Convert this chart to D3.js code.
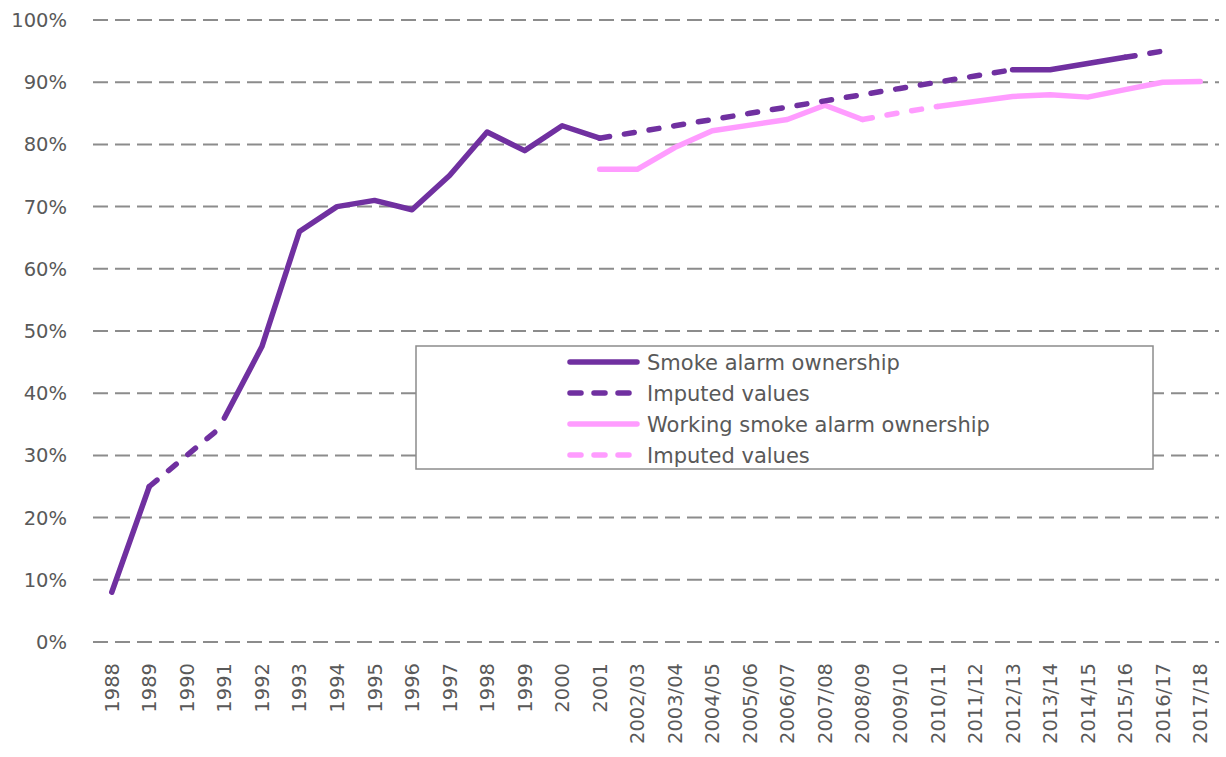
<!DOCTYPE html>
<meta charset="utf-8">
<script src="https://d3js.org/d3.v7.min.js"></script>
<style>
  body { margin: 0; background: #fff; }
  text { font-family: "DejaVu Sans", sans-serif; fill: #595959; }
</style>
<div id="chart"></div>
<script>
// Categories (survey years)
const years = ["1988","1989","1990","1991","1992","1993","1994","1995","1996","1997",
  "1998","1999","2000","2001","2002/03","2003/04","2004/05","2005/06","2006/07","2007/08",
  "2008/09","2009/10","2010/11","2011/12","2012/13","2013/14","2014/15","2015/16","2016/17","2017/18"];

// Smoke alarm ownership (%), null where only imputed
const ownership = [8,25,null,36,47.5,66,70,71,69.5,75,82,79,83,81,
  null,null,null,null,null,null,null,null,null,null,92,92,93,94,null,null];
const ownershipImputed = [null,25,30,35,null,null,null,null,null,null,null,null,null,81,
  82,83,84,85,86,87,88,89,90,91,92,null,null,94,95,null];

// Working smoke alarm ownership (%)
const working = [null,null,null,null,null,null,null,null,null,null,null,null,null,76,
  76,79.5,82.2,83.1,84,86.3,84,null,86.1,86.9,87.7,88,87.6,88.8,90,90.1];
const workingImputed = [null,null,null,null,null,null,null,null,null,null,null,null,null,null,
  null,null,null,null,null,null,84,85.1,86.1,null,null,null,null,null,null,null];

const yTicks = [0,10,20,30,40,50,60,70,80,90,100];

const W = 1226, H = 757;
const plot = {left: 93, right: 1219, top: 20, bottom: 642};
const purple = "#7030A0", pink = "#FF9CFF";

const svg = d3.select("#chart").append("svg")
  .attr("width", W).attr("height", H);

const x = d3.scaleBand().domain(years).range([plot.left, plot.right]);
const y = d3.scaleLinear().domain([0, 100]).range([plot.bottom, plot.top]);

// gridlines
svg.append("g").selectAll("line")
  .data(yTicks)
  .join("line")
    .attr("x1", plot.left).attr("x2", plot.right)
    .attr("y1", d => y(d)).attr("y2", d => y(d))
    .attr("stroke", "#8c8c8c").attr("stroke-width", 2)
    .attr("stroke-dasharray", "15,7");

// y labels
svg.append("g").selectAll("text")
  .data(yTicks)
  .join("text")
    .attr("x", 67).attr("y", d => y(d))
    .attr("dy", "0.36em")
    .attr("text-anchor", "end")
    .style("font-size", "19.5px")
    .text(d => d + "%");

// x labels, rotated
svg.append("g").selectAll("text")
  .data(years)
  .join("text")
    .attr("transform", d => `translate(${x(d) + x.bandwidth() / 2}, 663) rotate(-90)`)
    .attr("dy", "0.36em")
    .attr("text-anchor", "end")
    .style("font-size", "19.5px")
    .text(d => d);

const line = d3.line()
  .defined(d => d.v != null)
  .x(d => x(d.k) + x.bandwidth() / 2)
  .y(d => y(d.v));

const series = [
  {vals: working, color: pink, dash: null},
  {vals: workingImputed, color: pink, dash: "10,15"},
  {vals: ownership, color: purple, dash: null},
  {vals: ownershipImputed, color: purple, dash: "10,15"}
];

svg.append("g").selectAll("path")
  .data(series)
  .join("path")
    .attr("d", s => line(years.map((k, i) => ({k: k, v: s.vals[i]}))))
    .attr("fill", "none")
    .attr("stroke", s => s.color)
    .attr("stroke-width", 5.5)
    .attr("stroke-linecap", "round")
    .attr("stroke-linejoin", "round")
    .attr("stroke-dasharray", s => s.dash);

// legend
const legendItems = [
  {label: "Smoke alarm ownership", color: purple, dash: null},
  {label: "Imputed values", color: purple, dash: "11,13"},
  {label: "Working smoke alarm ownership", color: pink, dash: null},
  {label: "Imputed values", color: pink, dash: "11,13"}
];

const legend = svg.append("g");
legend.append("rect")
  .attr("x", 416).attr("y", 346)
  .attr("width", 737).attr("height", 123)
  .attr("fill", "#fff")
  .attr("stroke", "#8c8c8c").attr("stroke-width", 1.5);

const rows = legend.selectAll("g")
  .data(legendItems)
  .join("g")
    .attr("transform", (d, i) => `translate(0, ${362 + i * 31})`);

rows.append("line")
  .attr("x1", 570).attr("x2", 637)
  .attr("stroke", d => d.color)
  .attr("stroke-width", 5.5)
  .attr("stroke-linecap", "round")
  .attr("stroke-dasharray", d => d.dash);

rows.append("text")
  .attr("x", 647)
  .attr("dy", "0.36em")
  .style("font-size", "21px")
  .text(d => d.label);
</script>
